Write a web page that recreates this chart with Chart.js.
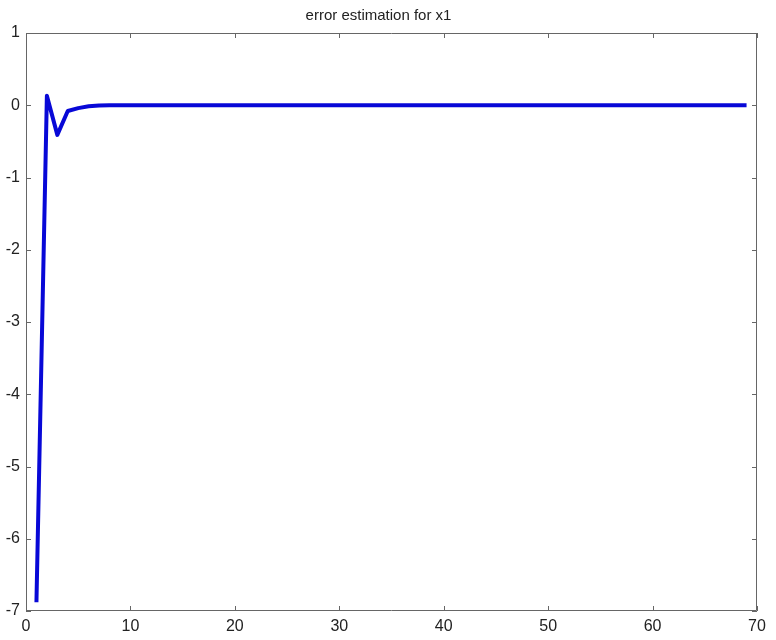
<!DOCTYPE html>
<html>
<head>
<meta charset="utf-8">
<script src="https://cdn.jsdelivr.net/npm/chart.js@4/dist/chart.umd.min.js"></script>
<style>
  html, body { margin: 0; padding: 0; background: #fff; }
  #wrap { width: 776px; height: 640px; }
</style>
</head>
<body>
<div id="wrap"><canvas id="errChart" width="776" height="640"></canvas></div>
<script>
const titleText = "error estimation for x1";
const xTicks = [0, 10, 20, 30, 40, 50, 60, 70];
const yTicks = [-7, -6, -5, -4, -3, -2, -1, 0, 1];

// error for x1 at each step (step = index + 1)
const errX1 = [
    -6.88, 0.13, -0.41, -0.08, -0.04, -0.015, -0.005, 0, 0, 0,
    0, 0, 0, 0, 0, 0, 0, 0, 0, 0,
    0, 0, 0, 0, 0, 0, 0, 0, 0, 0,
    0, 0, 0, 0, 0, 0, 0, 0, 0, 0,
    0, 0, 0, 0, 0, 0, 0, 0, 0, 0,
    0, 0, 0, 0, 0, 0, 0, 0, 0, 0,
    0, 0, 0, 0, 0, 0, 0, 0, 0
];

const axisColor = "#666";
const fontFam = "'Liberation Sans', Arial, Helvetica, sans-serif";

var points = errX1.map((v, i) => ({x: i + 1, y: v}));

// matlab style box with inward ticks on all four sides
const boxTicks = {
    id: "boxTicks",
    afterDraw(chart) {
        const ctx = chart.ctx;
        const a = chart.chartArea;
        const xs = chart.scales.x, ys = chart.scales.y;
        const len = 5;
        ctx.save();
        ctx.strokeStyle = axisColor;
        ctx.lineWidth = 1;
        ctx.beginPath();
        ctx.rect(a.left + 0.5, a.top + 0.5, a.right - a.left - 1, a.bottom - a.top - 1);
        xTicks.forEach(t => {
            var px = Math.round(xs.getPixelForValue(t)) + 0.5;
            ctx.moveTo(px, a.bottom);
            ctx.lineTo(px, a.bottom - len);
            ctx.moveTo(px, a.top);
            ctx.lineTo(px, a.top + len);
        });
        yTicks.forEach(t => {
            var py = Math.round(ys.getPixelForValue(t)) + 0.5;
            ctx.moveTo(a.left, py);
            ctx.lineTo(a.left + len, py);
            ctx.moveTo(a.right, py);
            ctx.lineTo(a.right - len, py);
        });
        ctx.stroke();
        ctx.restore();
    }
};

var errChart = new Chart("errChart", {
    type: "line",
    data: {
        datasets: [{
            data: points,
            borderColor: "rgb(8, 8, 215)",
            borderWidth: 4,
            borderJoinStyle: "round",
            pointRadius: 0,
            tension: 0,
            fill: false
        }]
    },
    options: {
        responsive: false,
        animation: false,
        layout: {padding: {left: 0, right: 19, top: 0, bottom: 0}},
        plugins: {
            legend: {display: false},
            tooltip: {enabled: false},
            title: {
                display: true,
                text: titleText,
                color: "#222",
                font: {family: fontFam, size: 15, weight: "normal"},
                padding: {top: 7, bottom: 8}
            }
        },
        scales: {
            x: {
                type: "linear",
                min: 0,
                max: 70,
                afterBuildTicks: s => { s.ticks = xTicks.map(v => ({value: v})); },
                afterFit: s => { s.height = 29; },
                grid: {display: false, drawTicks: false},
                border: {display: false},
                ticks: {color: "#222", padding: 6, maxRotation: 0, font: {family: fontFam, size: 16}}
            },
            y: {
                min: -7,
                max: 1,
                afterBuildTicks: s => { s.ticks = yTicks.map(v => ({value: v})); },
                afterFit: s => { s.width = 26; },
                grid: {display: false, drawTicks: false},
                border: {display: false},
                ticks: {color: "#222", padding: 6, font: {family: fontFam, size: 16}}
            }
        }
    },
    plugins: [boxTicks]
});
</script>
</body>
</html>
